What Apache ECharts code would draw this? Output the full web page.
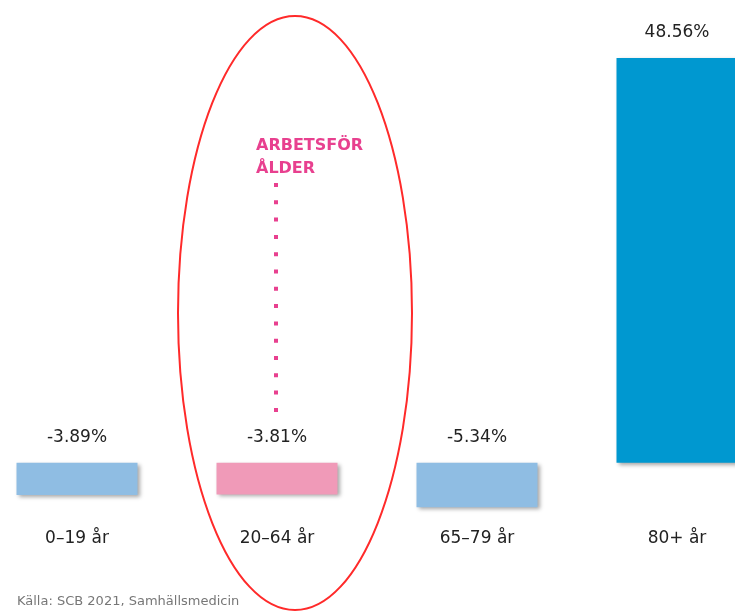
<!DOCTYPE html>
<html>
<head>
<meta charset="utf-8">
<script src="https://cdn.jsdelivr.net/npm/echarts@6/dist/echarts.min.js"></script>
<style>
  html, body { margin: 0; padding: 0; background: #fff; }
  #chart { width: 735px; height: 611px; }
</style>
</head>
<body>
<div id="chart"></div>
<script>
// åldersgrupper och förändring i procent
const categories = ['0\u201319 år', '20\u201364 år', '65\u201379 år', '80+ år'];
const changes = [-3.89, -3.81, -5.34, 48.56];
const barColors = ['#8fbde3', '#f09ab8', '#8fbde3', '#0098d0'];

const chartDom = document.getElementById('chart');
const myChart = echarts.init(chartDom);

const option = {
  animation: false,
  grid: { left: -23, width: 800, top: 46, height: 475, outerBoundsMode: 'none', containLabel: false },
  xAxis: {
    type: 'category',
    data: categories,
    axisLine: { show: false },
    axisTick: { show: false },
    axisLabel: { margin: 9, fontSize: 17, color: '#222', fontFamily: 'DejaVu Sans' }
  },
  yAxis: {
    type: 'value',
    min: -7,
    max: 50,
    show: false,
    splitLine: { show: false }
  },
  series: [
    {
      type: 'bar',
      barWidth: 121,
      data: changes.map((v, i) => ({
        value: v,
        itemStyle: {
          color: barColors[i],
          shadowColor: 'rgba(0,0,0,0.35)',
          shadowBlur: 4,
          shadowOffsetX: 2,
          shadowOffsetY: 2
        }
      })),
      label: {
        show: true,
        position: 'top',
        distance: 17,
        fontSize: 17,
        color: '#222',
        fontFamily: 'DejaVu Sans',
        formatter: p => p.value.toFixed(2) + '%'
      }
    }
  ],
  graphic: [
    {
      type: 'ellipse',
      shape: { cx: 295, cy: 313, rx: 117, ry: 297 },
      style: { fill: 'none', stroke: '#ff2a2a', lineWidth: 2 },
      z: 10
    },
    {
      type: 'text',
      left: 256,
      top: 134,
      style: {
        text: 'ARBETSFÖR\nÅLDER',
        fill: '#e8408f',
        font: 'bold 16px "DejaVu Sans"',
        lineHeight: 23
      }
    },
    {
      type: 'line',
      shape: { x1: 276, y1: 183, x2: 276, y2: 412 },
      style: { stroke: '#e8408f', lineWidth: 4, lineDash: [4, 13.3] }
    },
    {
      type: 'text',
      left: 17,
      top: 595,
      style: {
        text: 'Källa: SCB 2021, Samhällsmedicin',
        fill: '#777',
        font: '13px "DejaVu Sans"'
      }
    }
  ]
};

option && myChart.setOption(option);
</script>
</body>
</html>
